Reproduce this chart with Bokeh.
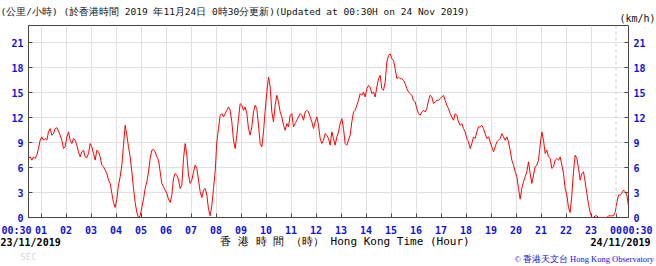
from bokeh.plotting import figure
from bokeh.models import Range1d, LinearAxis, FixedTicker, Label, Span
from bokeh.embed import file_html
from bokeh.resources import INLINE

# ---- data: wind speed (km/h), sampled every 4 minutes from 00:30 on 23/11/2019 ----
start_hour = 0.5
step_minutes = 4
speed_a = [7.1, 7.3, 6.9, 7.3, 7.1, 7.5, 8.3, 9.3, 9.7, 9.3,
           9.5, 9.3, 10.3, 10.7, 9.9, 10.1, 10.7, 10.8, 10.4, 9.9,
           9.3, 8.3, 8.5, 9.7, 10.3, 9.3, 8.9, 9.5, 9.3, 8.7,
           7.9, 7.3, 7.9, 8.1, 7.3, 7.2, 7.7, 8.9, 8.5, 7.7,
           6.9, 8.1, 7.9, 7.3, 6.3, 6.1, 5.7, 5.3, 4.5, 4.1,
           2.9, 1.8, 1.2, 2.2, 3.9, 4.9, 6.3, 8.7, 11.1, 9.9,
           8.5, 7.3, 5.5, 3.5, 1.8, 0.6, 0.0, 0.2, 1.2, 2.2,
           3.5, 4.3, 5.5, 7.1, 8.1, 8.2, 7.9, 7.3, 6.9, 5.5,
           4.1, 3.7, 3.3, 2.9, 2.2, 1.8, 2.7, 4.7, 5.3, 5.1]
speed_b = [4.5, 3.5, 3.9, 7.1, 8.9, 7.5, 5.1, 4.1, 4.5, 5.5,
           6.3, 5.9, 4.5, 3.1, 2.4, 3.3, 3.5, 2.7, 1.0, 0.2,
           1.4, 3.5, 5.5, 9.1, 10.7, 12.3, 12.5, 12.1, 12.5, 12.9,
           13.3, 12.9, 11.5, 9.3, 8.3, 9.9, 11.9, 13.7, 13.5, 12.9,
           13.3, 12.5, 10.7, 9.9, 10.9, 12.7, 13.5, 13.1, 11.1, 8.9,
           8.5, 10.3, 12.9, 15.1, 16.9, 15.7, 12.7, 11.5, 13.5, 14.7,
           13.9, 12.7, 12.1, 11.1, 10.5, 11.3, 10.9, 12.3, 12.5, 10.9,
           11.3, 11.7, 12.1, 12.5, 12.3, 11.7, 12.7, 12.9, 12.7, 12.1,
           11.5, 10.7, 11.5, 12.1, 11.1, 9.5, 8.9, 9.3, 10.1, 9.9]
speed_c = [9.5, 8.7, 10.3, 9.5, 8.7, 9.7, 10.3, 11.3, 11.9, 10.7,
           8.9, 8.7, 9.3, 9.9, 11.5, 12.7, 12.9, 13.5, 14.1, 14.9,
           14.7, 15.1, 14.5, 15.5, 15.9, 15.7, 14.9, 15.1, 14.5, 15.7,
           16.7, 17.1, 15.5, 15.3, 16.3, 18.7, 19.5, 19.7, 19.1, 18.9,
           17.9, 16.7, 16.9, 16.7, 16.7, 16.5, 16.1, 15.5, 15.1, 14.9,
           14.7, 14.1, 13.9, 13.1, 12.5, 12.3, 12.7, 12.9, 12.7, 13.1,
           14.1, 14.7, 14.5, 13.7, 13.9, 14.1, 14.1, 14.3, 14.5, 14.7,
           14.1, 13.5, 13.1, 12.5, 12.1, 11.7, 12.5, 12.3, 11.5, 11.1,
           11.3, 10.7, 10.3, 9.5, 9.1, 8.3, 8.9, 9.7, 9.5, 10.3]
speed_d = [10.9, 10.9, 11.1, 10.7, 10.1, 9.5, 9.7, 9.1, 8.5, 7.9,
           8.5, 9.1, 9.3, 9.5, 10.1, 9.7, 9.3, 9.7, 9.1, 8.1,
           6.9, 6.3, 5.5, 4.9, 3.5, 2.2, 3.5, 4.3, 4.9, 5.5,
           6.7, 5.3, 4.1, 5.1, 6.1, 6.3, 6.9, 8.7, 10.3, 9.3,
           7.7, 8.1, 7.3, 7.1, 5.9, 6.1, 6.9, 7.1, 6.9, 7.3,
           6.3, 5.3, 3.5, 2.7, 1.2, 0.6, 2.7, 5.5, 7.5, 7.1,
           5.9, 4.5, 5.3, 5.5, 4.3, 2.9, 1.6, 0.6, 0.0, 0.0,
           0.2, 0.2, 0.0, 0.0, 0.0, 0.0, 0.0, 0.0, 0.2, 0.2,
           0.2, 0.2, 0.6, 1.8, 2.7, 2.7, 2.9, 3.3, 3.1, 2.7,
           1.4]
speeds = speed_a + speed_b + speed_c + speed_d
hours = [start_hour + i * step_minutes / 60.0 for i in range(len(speeds))]

NB = "\u00a0"
hour_ticks = [0.5] + list(range(1, 25)) + [24.5]
hour_labels = ["00:30" + NB * 4] + ["%02d" % (h % 24) for h in range(1, 25)] + [NB * 3 + "00:30"]
y_ticks = [0, 3, 6, 9, 12, 15, 18, 21]
date_ticks = [0.54, 24.18]
date_labels = ["23/11/2019", "24/11/2019"]
credit_ticks = [22.92]
credit_labels = ["© 香港天文台 Hong Kong Observatory"]
title_line = "(公里/小時) (於香港時間 2019 年11月24日 0時30分更新)(Updated at 00:30H on 24 Nov 2019)"
unit_en = "(km/h)"
xlabel = NB * 5 + "香 港 時 間 （時） Hong Kong Time (Hour)"
corner = "SEC"

BLUE = "#1010e0"
MONO = "DejaVu Sans Mono"

p = figure(width=656, height=266, output_backend="svg", toolbar_location=None,
           x_range=Range1d(0.5, 24.5), y_range=Range1d(0, 23.1),
           min_border_left=28, min_border_right=28, min_border_top=25, min_border_bottom=49,
           background_fill_color="white", border_fill_color="white",
           outline_line_color="#444444", outline_line_width=1)

p.line(x=hours, y=speeds, line_color="#ff0000", line_width=1)

p.xgrid.ticker = FixedTicker(ticks=list(range(1, 24)))
p.ygrid.ticker = FixedTicker(ticks=y_ticks[1:])
for g in (p.xgrid, p.ygrid):
    g.grid_line_color = "#e0e0e0"
    g.grid_line_width = 1
p.add_layout(Span(location=24, dimension="height", line_color="#c8c8c8",
                  line_dash="3 3", line_width=1))

# main axes
xa = p.xaxis[0]
xa.ticker = FixedTicker(ticks=hour_ticks)
xa.major_label_overrides = {t: l for t, l in zip(hour_ticks, hour_labels)}
ya = p.yaxis[0]
yr = LinearAxis()
p.add_layout(yr, "right")
ya.ticker = FixedTicker(ticks=y_ticks)
yr.ticker = FixedTicker(ticks=y_ticks)
for a in (xa, ya, yr):
    a.minor_tick_line_color = None
    a.major_tick_in = 4
    a.major_tick_out = 0
    a.major_tick_line_color = "#444444"
    a.axis_line_color = None
    a.major_label_standoff = 5
    a.major_label_text_font = MONO
    a.major_label_text_font_style = "bold"
    a.major_label_text_font_size = "10px"
    a.major_label_text_color = BLUE
xa.major_label_standoff = 7


def text_axis(ticks, labels, standoff, font, size, color, style, label, lab_font, lab_size,
              lab_color, lab_standoff, lab_align=None):
    ax = LinearAxis(ticker=FixedTicker(ticks=ticks),
                    major_label_overrides={t: l for t, l in zip(ticks, labels)})
    ax.major_tick_in = 0
    ax.major_tick_out = 0
    ax.major_tick_line_color = None
    ax.minor_tick_line_color = None
    ax.axis_line_color = None
    ax.major_label_standoff = standoff
    ax.major_label_text_font = font
    ax.major_label_text_font_size = size
    ax.major_label_text_color = color
    ax.major_label_text_font_style = style
    ax.axis_label = label
    ax.axis_label_text_font = lab_font
    ax.axis_label_text_font_size = lab_size
    ax.axis_label_text_font_style = "normal"
    ax.axis_label_text_color = lab_color
    ax.axis_label_standoff = lab_standoff
    if lab_align is not None:
        try:
            ax.axis_label_align = lab_align
        except Exception:
            pass
    p.add_layout(ax, "below")
    return ax

# row 2: dates + x-axis title
text_axis(date_ticks, date_labels, -2, MONO, "10px", "black", "bold",
          xlabel, MONO, "11px", "black", -16)
# row 3: credit + corner mark
text_axis(credit_ticks, credit_labels, 3, "Liberation Serif", "8.5px", BLUE, "normal",
          corner, MONO, "9px", "#d8d8d8", -15, lab_align="start")

# top texts (side panel, data units -> not clipped)
p.add_layout(Label(x=-0.62, y=24.84, text=title_line, text_align="left", text_baseline="middle",
                   text_font=MONO, text_font_size="9.5px", text_color="#111111"), "above")
p.add_layout(Label(x=25.58, y=24.0, text=unit_en, text_align="right", text_baseline="middle",
                   text_font=MONO, text_font_size="10px", text_color="#111111"), "above")

open("out.html", "w").write(file_html(p, INLINE))
